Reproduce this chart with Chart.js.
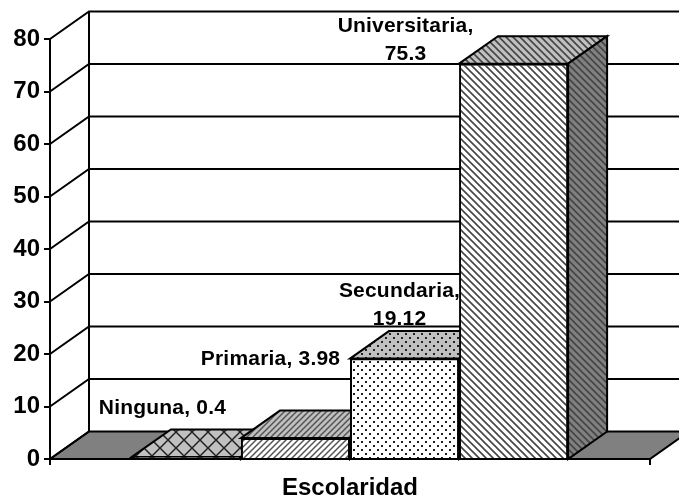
<!DOCTYPE html>
<html lang="es">
<head>
  <meta charset="UTF-8" />
  <title>Escolaridad</title>
  <script src="https://cdn.jsdelivr.net/npm/chart.js"></script>
  <style>
    html, body { margin: 0; background: #fff; overflow: hidden; }
    canvas { display: block; }
  </style>
</head>
<body>
  <canvas id="chart" width="679" height="499"></canvas>
  <script>
    const categories = ['Escolaridad'];
    const seriesNames = ['Ninguna', 'Primaria', 'Secundaria', 'Universitaria'];
    const seriesValues = [0.4, 3.98, 19.12, 75.3];
    const tickMax = 80;
    const tickStep = 10;

    // 3D look of the old spreadsheet chart
    const depthX = 39;
    const depthY = -27.5;
    const fontFamily = '"Liberation Sans", Arial, sans-serif';

    // hatch tiles
    function makePattern(bg, drawTile, size = 8) {
      const c = document.createElement('canvas');
      c.width = c.height = size;
      const g = c.getContext('2d');
      g.fillStyle = bg;
      g.fillRect(0, 0, size, size);
      drawTile(g, size);
      return document.createElement('canvas').getContext('2d').createPattern(c, 'repeat');
    }
    const cross = (g, s) => {
      g.lineWidth = 1.5;
      g.strokeStyle = '#222';
      g.beginPath();
      g.moveTo(0, 0); g.lineTo(s, s);
      g.moveTo(s, 0); g.lineTo(0, s);
      g.stroke();
    };
    const dotted = g => {
      g.fillStyle = '#222';
      g.fillRect(1, 1, 2, 2);
      g.fillRect(5, 5, 2, 2);
    };
    const slashes = (g, s) => {
      g.lineWidth = 1.5;
      g.strokeStyle = '#555';
      g.beginPath();
      g.moveTo(-1, s + 1); g.lineTo(s + 1, -1);
      g.moveTo(-1, 1); g.lineTo(1, -1);
      g.moveTo(s - 1, s + 1); g.lineTo(s + 1, s - 1);
      g.stroke();
    };
    const backslashes = (g, s) => {
      g.lineWidth = 1.6;
      g.strokeStyle = '#444';
      g.beginPath();
      g.moveTo(-1, -1); g.lineTo(s + 1, s + 1);
      g.moveTo(-1, s - 1); g.lineTo(1, s + 1);
      g.moveTo(s - 1, -1); g.lineTo(s + 1, 1);
      g.stroke();
    };

    const frontFills = [
      makePattern('#c0c0c0', cross, 16),
      makePattern('#fff', slashes, 6),
      makePattern('#fff', dotted),
      makePattern('#fff', backslashes, 7)
    ];
    const topFills = [
      makePattern('#c0c0c0', cross, 16),
      makePattern('#c0c0c0', slashes, 6),
      makePattern('#c0c0c0', dotted),
      makePattern('#c0c0c0', backslashes, 7)
    ];
    const sideFills = [
      makePattern('#808080', cross, 16),
      makePattern('#808080', slashes, 6),
      makePattern('#808080', dotted),
      makePattern('#808080', backslashes, 7)
    ];

    function poly(ctx, pts, fill) {
      ctx.beginPath();
      pts.forEach((p, i) => i ? ctx.lineTo(p[0], p[1]) : ctx.moveTo(p[0], p[1]));
      ctx.closePath();
      if (fill) {
        ctx.fillStyle = fill;
        ctx.fill();
      }
      ctx.stroke();
    }

    const walls3d = {
      id: 'walls3d',
      beforeDatasetsDraw(chart) {
        const { ctx, scales: { x, y } } = chart;
        const base = y.getPixelForValue(0);
        ctx.save();
        ctx.strokeStyle = '#000';
        ctx.lineWidth = 2;

        // floor
        poly(ctx, [
          [x.left, base], [x.left + depthX, base + depthY],
          [x.right + depthX, base + depthY], [x.right, base]
        ], '#808080');

        // back wall and side wall lines
        y.ticks.forEach(t => {
          const py = y.getPixelForValue(t.value);
          ctx.beginPath();
          ctx.moveTo(x.left, py);
          ctx.lineTo(x.left + depthX, py + depthY);
          if (t.value > 0) ctx.lineTo(x.right + depthX, py + depthY);
          ctx.stroke();
        });
        ctx.beginPath();
        ctx.moveTo(x.left + depthX, y.top + depthY);
        ctx.lineTo(x.left + depthX, base + depthY);
        ctx.stroke();

        // top and side faces, left to right so next bar covers them
        chart.getSortedVisibleDatasetMetas().forEach(meta => {
          const i = meta.index;
          const bar = meta.data[0];
          const half = bar.width / 2;
          const l = bar.x - half, r = bar.x + half, t = bar.y;
          poly(ctx, [[l, t], [l + depthX, t + depthY], [r + depthX, t + depthY], [r, t]], topFills[i]);
          poly(ctx, [[r, t], [r + depthX, t + depthY], [r + depthX, base + depthY], [r, base]], sideFills[i]);
        });
        ctx.restore();
      }
    };

    // label text wrapped the way it is in the picture, offset from each bar's centre
    const labelSpots = [
      { dx: -24, rows: [[-49, s => s[0] + ', ' + s[1]]] },
      { dx: -25, rows: [[-79, s => s[0] + ', ' + s[1]]] },
      { dx: -5, rows: [[-67, s => s[0] + ','], [-39, s => s[1]]] },
      { dx: -108, rows: [[-37, s => s[0] + ','], [-9, s => s[1]]] }
    ];
    const barLabels = {
      id: 'barLabels',
      afterDatasetsDraw(chart) {
        const { ctx } = chart;
        ctx.save();
        ctx.fillStyle = '#000';
        ctx.font = 'bold 21px ' + fontFamily;
        ctx.letterSpacing = '0.2px';
        ctx.textAlign = 'center';
        ctx.textBaseline = 'middle';
        chart.getSortedVisibleDatasetMetas().forEach(meta => {
          const i = meta.index;
          const bar = meta.data[0];
          const spot = labelSpots[i];
          spot.rows.forEach(([dy, text]) => {
            ctx.fillText(text([seriesNames[i], seriesValues[i]]), bar.x + spot.dx, bar.y + dy);
          });
        });
        ctx.restore();
      }
    };

    new Chart(document.getElementById('chart'), {
      type: 'bar',
      data: {
        labels: categories,
        datasets: seriesNames.map((name, i) => ({
          label: name,
          data: [seriesValues[i]],
          backgroundColor: frontFills[i],
          borderColor: '#000',
          borderWidth: 2,
          barPercentage: 1,
          categoryPercentage: 0.727
        }))
      },
      options: {
        responsive: false,
        animation: false,
        layout: { padding: { left: 0, right: 29, top: 39, bottom: 0 } },
        plugins: { legend: { display: false }, tooltip: { enabled: false } },
        scales: {
          x: {
            grid: { drawOnChartArea: false, color: '#000', lineWidth: 2, tickLength: 6 },
            border: { color: '#000', width: 2 },
            ticks: { color: '#000', font: { family: fontFamily, size: 24, weight: 'bold' }, padding: 9 },
            afterFit(s) { s.height = 40; }
          },
          y: {
            min: 0,
            max: tickMax,
            grid: { drawOnChartArea: false, color: '#000', lineWidth: 2, tickLength: 6 },
            border: { color: '#000', width: 2 },
            ticks: { stepSize: tickStep, color: '#000', font: { family: fontFamily, size: 24, weight: 'bold' }, padding: 4 },
            afterFit(s) { s.width = 50; }
          }
        }
      },
      plugins: [walls3d, barLabels]
    });
  </script>
</body>
</html>
